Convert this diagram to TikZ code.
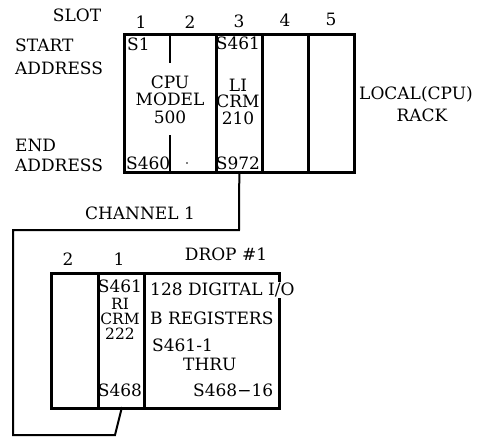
\documentclass[tikz,border=0pt]{standalone}
\usepackage{fontspec}
\setmainfont{DejaVu Serif}
\begin{document}
\begin{tikzpicture}[x=1pt,y=-1pt,
  every node/.style={font=\fontsize{17}{18}\selectfont, inner sep=0pt},
  rack/.style={draw, line width=2.6pt, anchor=north west, minimum height=#1},
  slotw/.style={minimum width=#1},
  thinline/.style={line width=1.3pt},
  chan/.style={line width=2pt},
  lbl/.style={anchor=center},
  lft/.style={anchor=west},
  stack/.style={align=center, font=\fontsize{17}{#1}\selectfont},
  smallstack/.style={align=center, font=\fontsize{15.5}{#1}\selectfont}
]
\useasboundingbox (0,0) rectangle (480,437);
% local rack
\node[rack=138pt, slotw=92pt] (cpu) at (123,33) {};
\node[rack=138pt, slotw=46pt] (s3) at (215,33) {};
\node[rack=138pt, slotw=46pt] (s4) at (261,33) {};
\node[rack=138pt, slotw=46pt] (s5) at (307,33) {};
\draw[thinline] (170,33) -- (170,63);
\draw[thinline] (170,135) -- (170,171);
\fill (187,163) circle (0.9pt);
% drop rack
\node[rack=135pt, slotw=47pt] (d2) at (50,272) {};
\node[rack=135pt, slotw=46pt] (d1) at (97,272) {};
\node[rack=135pt, slotw=135pt] (drop) at (143,272) {};
% labels
\node[lbl] (slot) at (77,15) {SLOT};
\node[lbl] (n1) at (141,22) {1};
\node[lbl] (n2) at (190,22) {2};
\node[lbl] (n3) at (239,21) {3};
\node[lbl] (n4) at (285,20) {4};
\node[lbl] (n5) at (331,19) {5};
\node[lft] (start) at (15,45) {START};
\node[lft] (addr1) at (15,68) {ADDRESS};
\node[lft] (endl) at (15,145) {END};
\node[lft] (addr2) at (15,165) {ADDRESS};
\node[lft] (sa1) at (127,44) {S1};
\node[lbl] (sa3) at (238,43) {S461};
\node[lft] (ea1) at (126,163) {S460};
\node[lbl] (ea3) at (238,163) {S972};
\node[stack=17.5pt] (cputxt) at (170,99.5) {CPU\\MODEL\\500};
\node[stack=16.5pt] (litxt) at (238,101.5) {LI\\CRM\\210};
\node[lbl] (local1) at (416,94) {LOCAL(CPU)};
\node[lbl] (local2) at (422,115) {RACK};
\node[lbl] (channel) at (140,213) {CHANNEL 1};
% drop labels
\node[lbl] (m2) at (68,259) {2};
\node[lbl] (m1) at (119,259) {1};
\node[lbl] (droplbl) at (226,254) {DROP \#1};
\node[lbl] (ds) at (120,286) {S461};
\node[smallstack=15pt] (ritxt) at (120,319) {RI\\CRM\\222};
\node[lbl] (de) at (120,390) {S468};
\node[lft, fill=white, inner sep=1pt] (dig) at (149,290) {128 DIGITAL I/O};
\node[lft] (breg) at (150,318) {B REGISTERS};
\node[lft] (r1) at (152,345) {S461-1};
\node[lft] (thru) at (183,364) {THRU};
\node[lft] (r2) at (193,390) {S468−16};
% channel connector
\coordinate (c1) at (239,230);
\coordinate (c2) at (13,230);
\coordinate (c3) at (13,435);
\coordinate (c4) at (115,435);
\coordinate (c5) at (122,407);
\draw[chan] (s3.south) -- (c1) -- (c2) -- (c3) -- (c4) -- (c5);
\end{tikzpicture}
\end{document}
